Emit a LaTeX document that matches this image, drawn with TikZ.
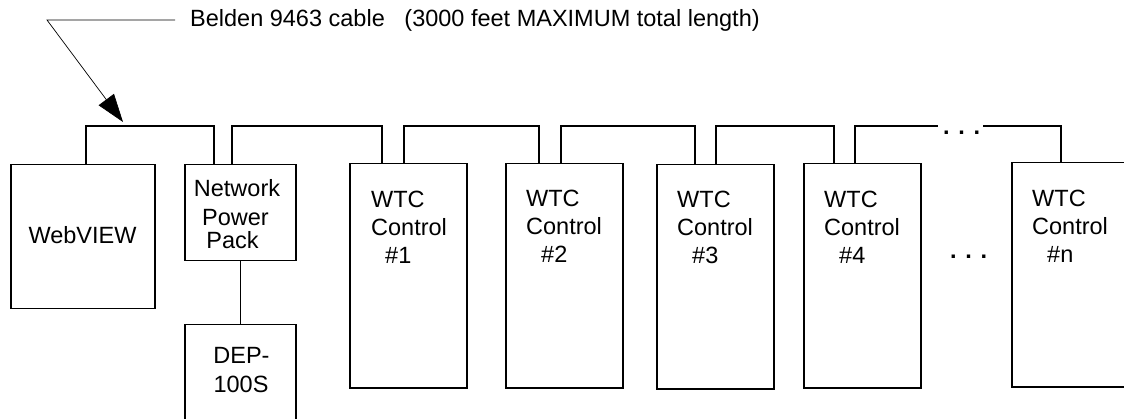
\documentclass[tikz,border=0pt]{standalone}
\usepackage{fontspec}
\setmainfont{Liberation Sans}
\usetikzlibrary{arrows.meta}
\begin{document}
\begin{tikzpicture}[x=1pt,y=-1pt,
  box/.style={draw, line width=1.5pt, inner sep=0pt, anchor=north west},
  cable/.style={line width=1.5pt},
  thinline/.style={line width=0.7pt},
  lbl/.style={font=\fontsize{23.5}{28}\selectfont, inner sep=0pt, anchor=base west},
  clbl/.style={lbl, anchor=base},
  dotlbl/.style={lbl, font=\fontsize{23.5}{28}\selectfont\bfseries},
]
\useasboundingbox (0,0) rectangle (1124,419);
% boxes
\node[box, minimum width=144pt, minimum height=144pt] (web) at (10,164) {};
\node[box, minimum width=111pt, minimum height=96pt] (npp) at (184,164) {};
\node[box, minimum width=111pt, minimum height=110pt] (dep) at (184,324) {};
\node[box, minimum width=117pt, minimum height=224pt] (w1) at (349,163) {};
\node[box, minimum width=117pt, minimum height=224pt] (w2) at (505,163) {};
\node[box, minimum width=117pt, minimum height=224pt] (w3) at (656,164) {};
\node[box, minimum width=117pt, minimum height=224pt] (w4) at (803,163) {};
\node[box, minimum width=120pt, minimum height=224pt] (wn) at (1011,162) {};
% ports
\coordinate (bus) at (0,126);
\coordinate (webo) at ([xshift=3pt]web.north);
\coordinate (nppi) at ([xshift=-26.5pt]npp.north);
\coordinate (nppo) at ([xshift=-8.5pt]npp.north);
\coordinate (w1i) at ([xshift=-26.5pt]w1.north);
\coordinate (w1o) at ([xshift=-4.5pt]w1.north);
\coordinate (w2i) at ([xshift=-25.5pt]w2.north);
\coordinate (w2o) at ([xshift=-3.5pt]w2.north);
\coordinate (w3i) at ([xshift=-20.5pt]w3.north);
\coordinate (w3o) at ([xshift=0.5pt]w3.north);
\coordinate (w4i) at ([xshift=-28.5pt]w4.north);
\coordinate (w4o) at ([xshift=-7.5pt]w4.north);
\coordinate (wni) at ([xshift=-11pt]wn.north);
\coordinate (gapl) at (938,126);
\coordinate (gapr) at (983,126);
% cable
\draw[cable] (webo) |- (nppi |- bus) -- (nppi);
\draw[cable] (nppo) |- (w1i |- bus) -- (w1i);
\draw[cable] (w1o) |- (w2i |- bus) -- (w2i);
\draw[cable] (w2o) |- (w3i |- bus) -- (w3i);
\draw[cable] (w3o) |- (w4i |- bus) -- (w4i);
\draw[cable] (w4o) |- (gapl);
\draw[cable] (gapr) -| (wni);
\node[dotlbl] (cdots) at (943,135) {. . .};
\draw[thinline] (npp.south) -- (dep.north);
% leader
\node[lbl] (ltxt) at (190,27) {Belden 9463 cable\ \ \ (3000 feet MAXIMUM total length)};
\coordinate (lend) at (175,20);
\coordinate (lknee) at (47,20);
\coordinate (ltip) at (123,122);
\draw[thinline, -{Triangle[length=28pt,width=19pt]}] (lend) -- (lknee) -- (ltip);
% labels
\node[clbl] (tweb) at (82.5,244) {WebVIEW};
\node[clbl] (tn1) at (237,197) {Network};
\node[clbl] (tn2) at (235.5,226) {Power};
\node[clbl] (tn3) at (232.5,249) {Pack};
\node[clbl] (td1) at (241.5,363) {DEP-};
\node[clbl] (td2) at (241,392) {100S};
\node[lbl] (t1a) at (371,208) {WTC};
\node[lbl] (t1b) at (371,236) {Control};
\node[lbl] (t1c) at (385,264) {\#1};
\node[lbl] (t2a) at (526,207) {WTC};
\node[lbl] (t2b) at (526,235) {Control};
\node[lbl] (t2c) at (541,263) {\#2};
\node[lbl] (t3a) at (677,208) {WTC};
\node[lbl] (t3b) at (677,236) {Control};
\node[lbl] (t3c) at (692,264) {\#3};
\node[lbl] (t4a) at (824,208) {WTC};
\node[lbl] (t4b) at (824,236) {Control};
\node[lbl] (t4c) at (839,264) {\#4};
\node[lbl] (tna) at (1032,207) {WTC};
\node[lbl] (tnb) at (1032,235) {Control};
\node[lbl] (tnc) at (1047,263) {\#n};
\node[dotlbl] (mdots) at (950,259) {. . .};
\end{tikzpicture}
\end{document}
